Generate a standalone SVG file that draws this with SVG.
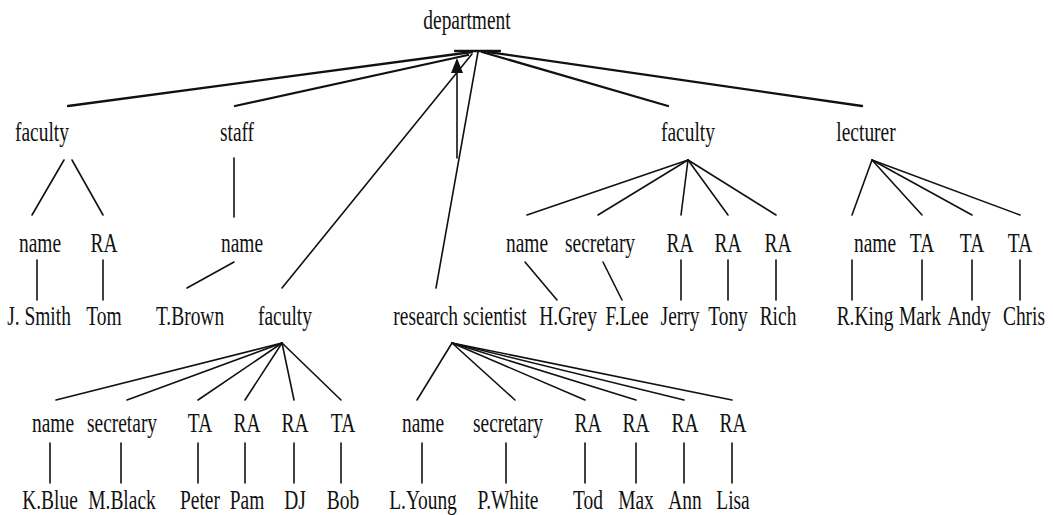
<svg xmlns="http://www.w3.org/2000/svg" width="1053" height="515" viewBox="0 0 1053 515">
  <style>
    text { font-family: "Liberation Serif", "Times New Roman", serif; font-size: 27px; fill: #111; text-anchor: middle; }
    .edges line { stroke: #111; stroke-width: 1.6; stroke-linecap: round; }
    .edges .top { stroke-width: 2.3; }
  </style>
  <rect width="1053" height="515" fill="#fff"/>

  <!-- connectors -->
  <g class="edges">
    <!-- root fan -->
    <line class="top" x1="68" y1="106" x2="472" y2="52"/>
    <line class="top" x1="235" y1="106" x2="468" y2="55"/>
    <line x1="282" y1="288" x2="472" y2="54"/>
    <line x1="436" y1="288" x2="478" y2="52"/>
    <line class="top" x1="668" y1="106" x2="482" y2="52"/>
    <line class="top" x1="862" y1="106" x2="488" y2="52"/>
    <line class="top" x1="455" y1="51" x2="500" y2="51"/>
    <!-- upward arrow -->
    <line x1="457" y1="158" x2="457" y2="70" stroke-width="2.2"/>
    <path d="M451,73 L457,58 L463,73 Z" fill="#111"/>

    <!-- left faculty -->
    <line x1="64" y1="160" x2="32" y2="215"/>
    <line x1="72" y1="160" x2="103" y2="215"/>
    <line x1="37" y1="260" x2="37" y2="300"/>
    <line x1="103" y1="260" x2="103" y2="300"/>

    <!-- staff -->
    <line x1="234" y1="158" x2="234" y2="217"/>
    <line x1="234" y1="262" x2="187" y2="288"/>

    <!-- middle faculty -->
    <line x1="282" y1="343" x2="56" y2="400"/>
    <line x1="282" y1="343" x2="127" y2="400"/>
    <line x1="282" y1="343" x2="198" y2="400"/>
    <line x1="282" y1="343" x2="245" y2="400"/>
    <line x1="282" y1="343" x2="294" y2="400"/>
    <line x1="282" y1="343" x2="341" y2="400"/>
    <line x1="50" y1="443" x2="50" y2="483"/>
    <line x1="121" y1="443" x2="121" y2="483"/>
    <line x1="198" y1="443" x2="198" y2="483"/>
    <line x1="245" y1="443" x2="245" y2="483"/>
    <line x1="294" y1="443" x2="294" y2="483"/>
    <line x1="341" y1="443" x2="341" y2="483"/>

    <!-- research scientist -->
    <line x1="452" y1="343" x2="417" y2="400"/>
    <line x1="452" y1="343" x2="515" y2="400"/>
    <line x1="452" y1="343" x2="585" y2="400"/>
    <line x1="452" y1="343" x2="636" y2="400"/>
    <line x1="452" y1="343" x2="684" y2="400"/>
    <line x1="452" y1="343" x2="732" y2="400"/>
    <line x1="422" y1="443" x2="422" y2="483"/>
    <line x1="506" y1="443" x2="506" y2="483"/>
    <line x1="585" y1="443" x2="585" y2="483"/>
    <line x1="636" y1="443" x2="636" y2="483"/>
    <line x1="684" y1="443" x2="684" y2="483"/>
    <line x1="732" y1="443" x2="732" y2="483"/>

    <!-- right faculty -->
    <line x1="688" y1="160" x2="527" y2="215"/>
    <line x1="688" y1="160" x2="598" y2="215"/>
    <line x1="688" y1="160" x2="681" y2="215"/>
    <line x1="688" y1="160" x2="728" y2="215"/>
    <line x1="688" y1="160" x2="776" y2="215"/>
    <line x1="525" y1="262" x2="557" y2="300"/>
    <line x1="603" y1="262" x2="622" y2="300"/>
    <line x1="681" y1="260" x2="681" y2="300"/>
    <line x1="728" y1="260" x2="728" y2="300"/>
    <line x1="776" y1="260" x2="776" y2="300"/>

    <!-- lecturer -->
    <line x1="872" y1="160" x2="852" y2="215"/>
    <line x1="872" y1="160" x2="922" y2="215"/>
    <line x1="872" y1="160" x2="972" y2="215"/>
    <line x1="872" y1="160" x2="1020" y2="215"/>
    <line x1="852" y1="260" x2="852" y2="300"/>
    <line x1="922" y1="260" x2="922" y2="300"/>
    <line x1="972" y1="260" x2="972" y2="300"/>
    <line x1="1020" y1="260" x2="1020" y2="300"/>
  </g>

  <!-- root -->
  <g id="n-department"><text transform="translate(467,29) scale(0.72,1)">department</text></g>

  <!-- level 1 -->
  <g id="n-faculty1"><text transform="translate(42,141) scale(0.72,1)">faculty</text></g>
  <g id="n-staff"><text transform="translate(237,141) scale(0.72,1)">staff</text></g>
  <g id="n-faculty3"><text transform="translate(688,141) scale(0.72,1)">faculty</text></g>
  <g id="n-lecturer"><text transform="translate(866,141) scale(0.72,1)">lecturer</text></g>

  <!-- left faculty subtree -->
  <g id="n-f1-name"><text transform="translate(40,252) scale(0.72,1)">name</text></g>
  <g id="n-f1-ra"><text transform="translate(104,252) scale(0.72,1)">RA</text></g>
  <g id="n-jsmith"><text transform="translate(39,325) scale(0.72,1)">J. Smith</text></g>
  <g id="n-tom"><text transform="translate(104,325) scale(0.72,1)">Tom</text></g>

  <!-- staff subtree -->
  <g id="n-staff-name"><text transform="translate(242,252) scale(0.72,1)">name</text></g>
  <g id="n-tbrown"><text transform="translate(190,325) scale(0.72,1)">T.Brown</text></g>

  <!-- second-level faculty and research scientist -->
  <g id="n-faculty2"><text transform="translate(285,325) scale(0.72,1)">faculty</text></g>
  <g id="n-research"><text transform="translate(460,325) scale(0.72,1)">research scientist</text></g>

  <!-- right faculty subtree -->
  <g id="n-f3-name"><text transform="translate(527,252) scale(0.72,1)">name</text></g>
  <g id="n-f3-sec"><text transform="translate(600,252) scale(0.72,1)">secretary</text></g>
  <g id="n-f3-ra1"><text transform="translate(680,252) scale(0.72,1)">RA</text></g>
  <g id="n-f3-ra2"><text transform="translate(728,252) scale(0.72,1)">RA</text></g>
  <g id="n-f3-ra3"><text transform="translate(778,252) scale(0.72,1)">RA</text></g>
  <g id="n-hgrey"><text transform="translate(568,325) scale(0.72,1)">H.Grey</text></g>
  <g id="n-flee"><text transform="translate(627,325) scale(0.72,1)">F.Lee</text></g>
  <g id="n-jerry"><text transform="translate(680,325) scale(0.72,1)">Jerry</text></g>
  <g id="n-tony"><text transform="translate(728,325) scale(0.72,1)">Tony</text></g>
  <g id="n-rich"><text transform="translate(778,325) scale(0.72,1)">Rich</text></g>

  <!-- lecturer subtree -->
  <g id="n-lec-name"><text transform="translate(875,252) scale(0.72,1)">name</text></g>
  <g id="n-lec-ta1"><text transform="translate(922,252) scale(0.72,1)">TA</text></g>
  <g id="n-lec-ta2"><text transform="translate(972,252) scale(0.72,1)">TA</text></g>
  <g id="n-lec-ta3"><text transform="translate(1020,252) scale(0.72,1)">TA</text></g>
  <g id="n-rking"><text transform="translate(865,325) scale(0.72,1)">R.King</text></g>
  <g id="n-mark"><text transform="translate(920,325) scale(0.72,1)">Mark</text></g>
  <g id="n-andy"><text transform="translate(969,325) scale(0.72,1)">Andy</text></g>
  <g id="n-chris"><text transform="translate(1024,325) scale(0.72,1)">Chris</text></g>

  <!-- middle faculty subtree -->
  <g id="n-f2-name"><text transform="translate(53,432) scale(0.72,1)">name</text></g>
  <g id="n-f2-sec"><text transform="translate(122,432) scale(0.72,1)">secretary</text></g>
  <g id="n-f2-ta1"><text transform="translate(200,432) scale(0.72,1)">TA</text></g>
  <g id="n-f2-ra1"><text transform="translate(247,432) scale(0.72,1)">RA</text></g>
  <g id="n-f2-ra2"><text transform="translate(295,432) scale(0.72,1)">RA</text></g>
  <g id="n-f2-ta2"><text transform="translate(343,432) scale(0.72,1)">TA</text></g>
  <g id="n-kblue"><text transform="translate(50,509) scale(0.72,1)">K.Blue</text></g>
  <g id="n-mblack"><text transform="translate(122,509) scale(0.72,1)">M.Black</text></g>
  <g id="n-peter"><text transform="translate(200,509) scale(0.72,1)">Peter</text></g>
  <g id="n-pam"><text transform="translate(247,509) scale(0.72,1)">Pam</text></g>
  <g id="n-dj"><text transform="translate(295,509) scale(0.72,1)">DJ</text></g>
  <g id="n-bob"><text transform="translate(343,509) scale(0.72,1)">Bob</text></g>

  <!-- research scientist subtree -->
  <g id="n-rs-name"><text transform="translate(423,432) scale(0.72,1)">name</text></g>
  <g id="n-rs-sec"><text transform="translate(508,432) scale(0.72,1)">secretary</text></g>
  <g id="n-rs-ra1"><text transform="translate(588,432) scale(0.72,1)">RA</text></g>
  <g id="n-rs-ra2"><text transform="translate(636,432) scale(0.72,1)">RA</text></g>
  <g id="n-rs-ra3"><text transform="translate(685,432) scale(0.72,1)">RA</text></g>
  <g id="n-rs-ra4"><text transform="translate(733,432) scale(0.72,1)">RA</text></g>
  <g id="n-lyoung"><text transform="translate(423,509) scale(0.72,1)">L.Young</text></g>
  <g id="n-pwhite"><text transform="translate(508,509) scale(0.72,1)">P.White</text></g>
  <g id="n-tod"><text transform="translate(588,509) scale(0.72,1)">Tod</text></g>
  <g id="n-max"><text transform="translate(636,509) scale(0.72,1)">Max</text></g>
  <g id="n-ann"><text transform="translate(685,509) scale(0.72,1)">Ann</text></g>
  <g id="n-lisa"><text transform="translate(733,509) scale(0.72,1)">Lisa</text></g>
</svg>
